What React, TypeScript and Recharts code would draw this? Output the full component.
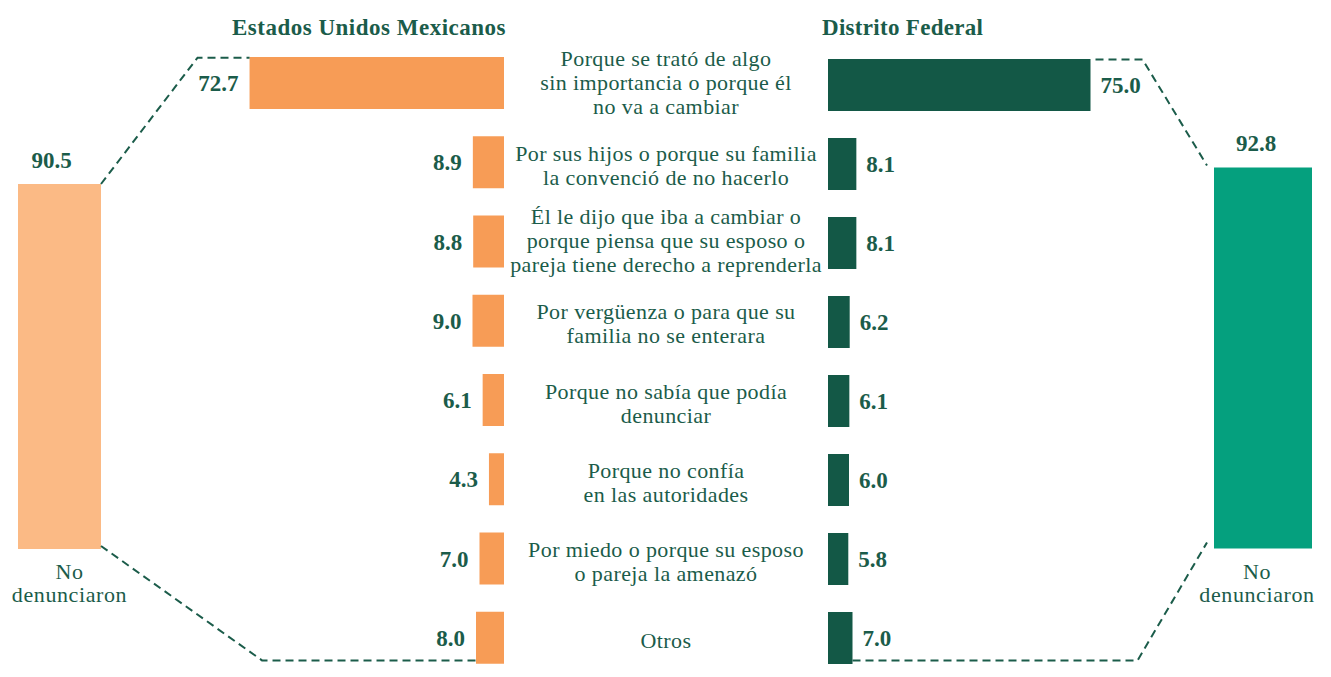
import React from "react";
import { BarChart, Bar, XAxis, YAxis, LabelList } from "recharts";

// ---------- data ----------
const categories: string[] = [
  "Porque se trató de algo\nsin importancia o porque él\nno va a cambiar",
  "Por sus hijos o porque su familia\nla convenció de no hacerlo",
  "Él le dijo que iba a cambiar o\nporque piensa que su esposo o\npareja tiene derecho a reprenderla",
  "Por vergüenza o para que su\nfamilia no se enterara",
  "Porque no sabía que podía\ndenunciar",
  "Porque no confía\nen las autoridades",
  "Por miedo o porque su esposo\no pareja la amenazó",
  "Otros",
];
const euaValues: number[] = [72.7, 8.9, 8.8, 9.0, 6.1, 4.3, 7.0, 8.0];
const dfValues: number[] = [75.0, 8.1, 8.1, 6.2, 6.1, 6.0, 5.8, 7.0];
const totalCategory = "No\ndenunciaron";
const euaTotal = 90.5;
const dfTotal = 92.8;
const euaTitle = "Estados Unidos Mexicanos";
const dfTitle = "Distrito Federal";

// ---------- layout ----------
const W = 1331;
const H = 677;
const FONT = "'Liberation Serif', 'Times New Roman', serif";
const TEXT = "#1B5C4A";
const ORANGE = "#F79C56";
const LIGHT_ORANGE = "#FBBA85";
const DARK_GREEN = "#135846";
const TEAL = "#05A07E";

const AX_MAX = 80;
const CL_RIGHT = 504;
const CL_W = 280;
const CR_LEFT = 828;
const CR_W = 280;
const CENTER_X = (CL_RIGHT + CR_LEFT) / 2;
const CL_TOP = 43;
const CR_TOP = 45;
const BAR = 52;

const BL_LEFT = 18;
const BL_W = 83;
const BL_BOTTOM = 549;
const BL_H100 = 403.3;
const BR_LEFT = 1214;
const BR_W = 98;
const BR_BOTTOM = 548.5;
const BR_H100 = 410.6;
const X_AX_H = 60;
const PAD = 12;

const rows = categories.map((c, i) => ({ cat: c, eua: euaValues[i], df: dfValues[i] }));

const CenterTick = (props: any) => {
  const { y, payload } = props;
  const lines: string[] = String(payload.value).split("\n");
  const lh = 24;
  const start = y - ((lines.length - 1) * lh) / 2 + 7 + (lines.length < 3 ? 4 : 0);
  return (
    <text x={CENTER_X} y={start} textAnchor="middle" fill={TEXT} fontFamily={FONT} fontSize={22} letterSpacing={0.4}>
      {lines.map((l, i) => (
        <tspan key={i} x={CENTER_X} y={start + i * lh}>
          {l}
        </tspan>
      ))}
    </text>
  );
};

const LeftValueLabel = (props: any) => {
  const { x, y, width, height, value } = props;
  const left = Math.min(x, x + width);
  return (
    <text x={left - 11} y={y + height / 2 + 8} textAnchor="end" fill={TEXT} fontFamily={FONT} fontWeight="bold" fontSize={23}>
      {Number(value).toFixed(1)}
    </text>
  );
};

const RightValueLabel = (props: any) => {
  const { x, y, width, height, value } = props;
  const right = Math.max(x, x + width);
  return (
    <text x={right + 10} y={y + height / 2 + 8} textAnchor="start" fill={TEXT} fontFamily={FONT} fontWeight="bold" fontSize={23}>
      {Number(value).toFixed(1)}
    </text>
  );
};

const makeTopLabel = (dx: number) => (props: any) => {
  const { x, y, width, value } = props;
  return (
    <text x={x + width / 2 + dx} y={y - 16} textAnchor="middle" fill={TEXT} fontFamily={FONT} fontWeight="bold" fontSize={23}>
      {Number(value).toFixed(1)}
    </text>
  );
};

const makeBottomTick = (dx: number, bottom: number) => (props: any) => {
  const { x, payload } = props;
  const lines: string[] = String(payload.value).split("\n");
  return (
    <text x={x + dx} y={bottom + 30} textAnchor="middle" fill={TEXT} fontFamily={FONT} fontSize={22} letterSpacing={0.6}>
      {lines.map((l, i) => (
        <tspan key={i} x={x + dx} y={bottom + 30 + i * 23}>
          {l}
        </tspan>
      ))}
    </text>
  );
};

const abs: React.CSSProperties = { position: "absolute", left: 0, top: 0 };

export default function App() {
  // geometry for connectors, derived from the same layout constants
  const clScale = CL_W / AX_MAX;
  const crScale = CR_W / AX_MAX;
  const bandL = (H - CL_TOP) / categories.length;
  const bandR = (H - CR_TOP) / categories.length;
  const n = categories.length;
  const firstTopL = CL_TOP + (bandL - BAR) / 2;
  const lastBotL = CL_TOP + (n - 1) * bandL + (bandL + BAR) / 2;
  const firstTopR = CR_TOP + (bandR - BAR) / 2;
  const lastBotR = CR_TOP + (n - 1) * bandR + (bandR + BAR) / 2;
  const firstLeftX = CL_RIGHT - euaValues[0] * clScale;
  const lastLeftX = CL_RIGHT - euaValues[n - 1] * clScale;
  const firstRightX = CR_LEFT + dfValues[0] * crScale;
  const lastRightX = CR_LEFT + dfValues[n - 1] * crScale;
  const blTop = BL_BOTTOM - (euaTotal / 100) * BL_H100;
  const brTop = BR_BOTTOM - (dfTotal / 100) * BR_H100;
  const blRight = BL_LEFT + BL_W;

  const dash = { stroke: TEXT, strokeWidth: 2, strokeDasharray: "8 5", fill: "none" };

  return (
    <div style={{ ...abs, width: W, height: H, background: "#fff", overflow: "hidden" }}>
      {/* left big bar */}
      <div style={abs}>
        <BarChart
          width={W}
          height={H}
          data={[{ name: totalCategory, value: euaTotal }]}
          margin={{ top: BL_BOTTOM - BL_H100, bottom: H - BL_BOTTOM - X_AX_H, left: BL_LEFT - PAD, right: W - BL_LEFT - BL_W - PAD }}
          barCategoryGap={0}
        >
          <XAxis dataKey="name" height={X_AX_H} axisLine={false} tickLine={false} interval={0} tick={makeBottomTick(10, BL_BOTTOM)} />
          <YAxis hide domain={[0, 100]} />
          <Bar dataKey="value" fill={LIGHT_ORANGE} barSize={BL_W} isAnimationActive={false}>
            <LabelList dataKey="value" content={makeTopLabel(-8)} />
          </Bar>
        </BarChart>
      </div>
      {/* right big bar */}
      <div style={abs}>
        <BarChart
          width={W}
          height={H}
          data={[{ name: totalCategory, value: dfTotal }]}
          margin={{ top: BR_BOTTOM - BR_H100, bottom: H - BR_BOTTOM - X_AX_H, left: BR_LEFT - PAD, right: W - BR_LEFT - BR_W - PAD }}
          barCategoryGap={0}
        >
          <XAxis dataKey="name" height={X_AX_H} axisLine={false} tickLine={false} interval={0} tick={makeBottomTick(-6, BR_BOTTOM)} />
          <YAxis hide domain={[0, 100]} />
          <Bar dataKey="value" fill={TEAL} barSize={BR_W} isAnimationActive={false}>
            <LabelList dataKey="value" content={makeTopLabel(-7)} />
          </Bar>
        </BarChart>
      </div>
      {/* left center bars + category labels */}
      <div style={abs}>
        <BarChart
          width={W}
          height={H}
          layout="vertical"
          data={rows}
          margin={{ top: CL_TOP, bottom: 0, left: CL_RIGHT - CL_W, right: W - CR_LEFT }}
        >
          <XAxis type="number" domain={[0, AX_MAX]} reversed hide />
          <YAxis
            type="category"
            dataKey="cat"
            orientation="right"
            width={CR_LEFT - CL_RIGHT}
            axisLine={false}
            tickLine={false}
            interval={0}
            tick={CenterTick}
          />
          <Bar dataKey="eua" fill={ORANGE} barSize={BAR} isAnimationActive={false}>
            <LabelList dataKey="eua" content={LeftValueLabel} />
          </Bar>
        </BarChart>
      </div>
      {/* right center bars */}
      <div style={abs}>
        <BarChart
          width={W}
          height={H}
          layout="vertical"
          data={rows}
          margin={{ top: CR_TOP, bottom: 0, left: CR_LEFT, right: W - CR_LEFT - CR_W }}
        >
          <XAxis type="number" domain={[0, AX_MAX]} hide />
          <YAxis type="category" dataKey="cat" hide />
          <Bar dataKey="df" fill={DARK_GREEN} barSize={BAR} isAnimationActive={false}>
            <LabelList dataKey="df" content={RightValueLabel} />
          </Bar>
        </BarChart>
      </div>
      {/* titles and connectors */}
      <svg width={W} height={H} style={{ ...abs, pointerEvents: "none" }}>
        <text x={CL_RIGHT + 2} y={35} textAnchor="end" fill={TEXT} fontFamily={FONT} fontWeight="bold" fontSize={23} letterSpacing={0.5}>
          {euaTitle}
        </text>
        <text x={CR_LEFT - 6} y={35} textAnchor="start" fill={TEXT} fontFamily={FONT} fontWeight="bold" fontSize={23} letterSpacing={0.3}>
          {dfTitle}
        </text>
        <polyline points={`${blRight},${blTop} ${firstLeftX - 52},${firstTopL + 1} ${firstLeftX},${firstTopL + 1}`} {...dash} />
        <polyline points={`${blRight},${BL_BOTTOM - 3} ${lastLeftX - 214},${lastBotL - 3} ${lastLeftX},${lastBotL - 3}`} {...dash} />
        <polyline points={`${firstRightX + 5},${firstTopR + 1} ${firstRightX + 52},${firstTopR + 1} ${BR_LEFT - 7},${brTop - 2}`} {...dash} />
        <polyline points={`${lastRightX},${lastBotR - 3} ${lastRightX + 285},${lastBotR - 3} ${BR_LEFT - 7},${BR_BOTTOM - 6}`} {...dash} />
      </svg>
    </div>
  );
}
